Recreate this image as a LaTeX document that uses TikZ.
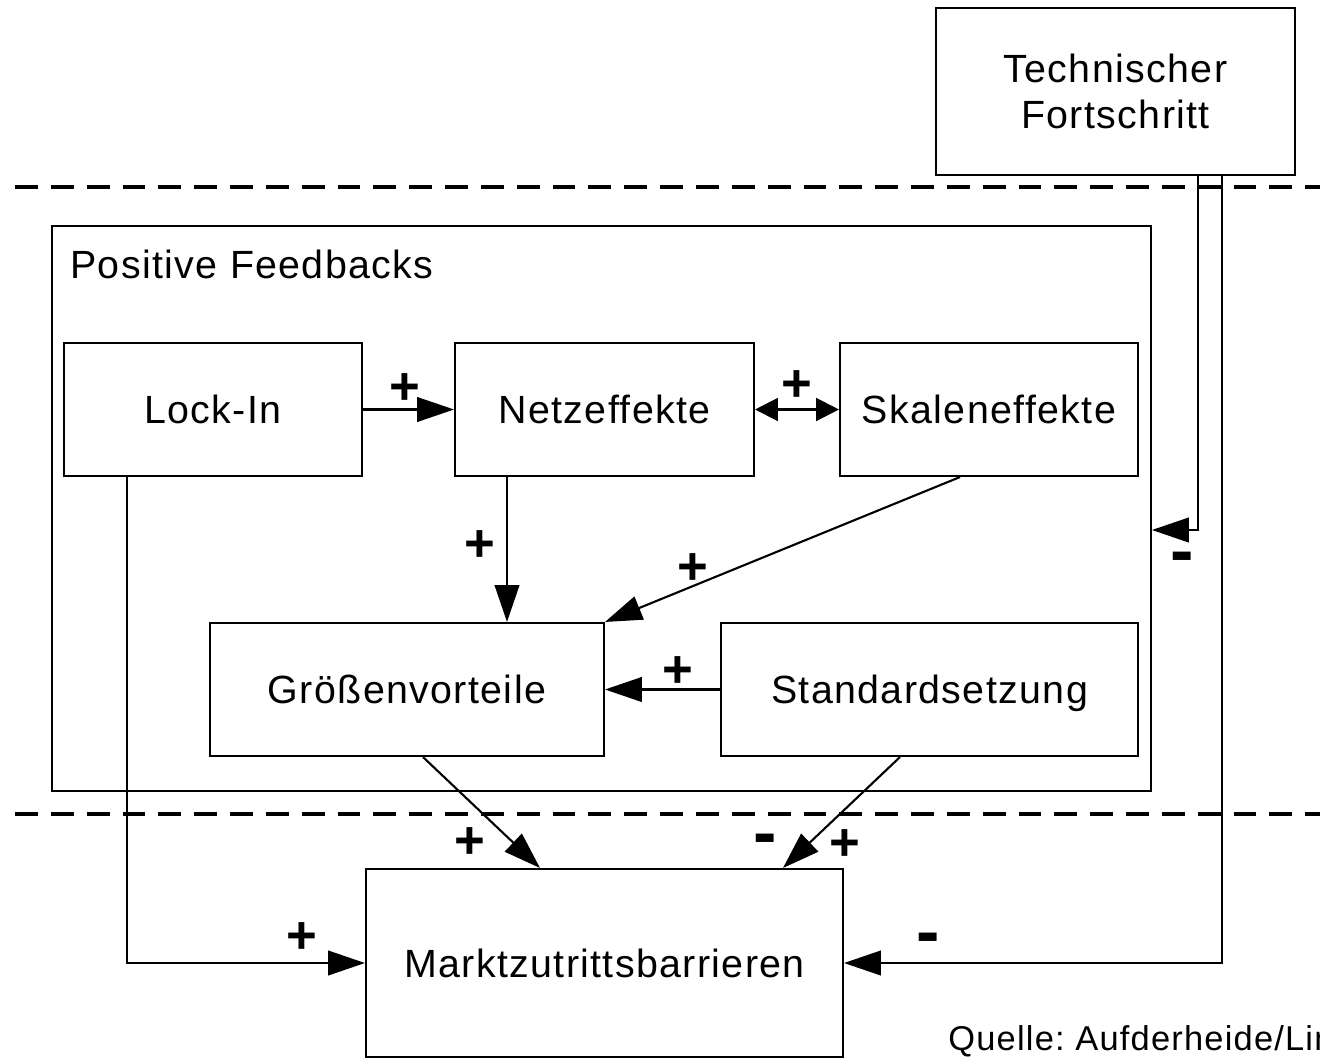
\documentclass[tikz,border=0pt]{standalone}
\usepackage{fontspec}
\setmainfont{Liberation Sans}
\newfontfamily\lsfont[LetterSpace=3.5]{Liberation Sans}
\usetikzlibrary{arrows.meta,calc}
\frenchspacing
\tikzset{
  txt/.style={font=\lsfont\fontsize{22.4}{26}\selectfont},
  box/.style={draw, line width=1.2pt, inner sep=0pt, txt, align=center},
  onel/.style={box, text height=16.04pt, text depth=0pt},
  conn/.style={line width=1.2pt, -{Triangle[length=21pt,width=14pt]}},
  biconn/.style={line width=1.2pt, {Triangle[length=13pt,width=13pt]}-{Triangle[length=13pt,width=13pt]}},
  plus/.style={font=\bfseries\fontsize{30}{30}\selectfont, inner sep=0pt},
  minus/.style={font=\bfseries\fontsize{40}{40}\selectfont, inner sep=0pt},
  sep/.style={line width=1.8pt, dash pattern=on 13pt off 7.4pt}
}
\begin{document}
\begin{tikzpicture}[x=0.02cm,y=-0.02cm]
\clip (0,0) rectangle (1320,1059);
\useasboundingbox (0,0) rectangle (1320,1059);
% separators
\draw[sep] (15,187) -- (1320,187);
\draw[sep] (15,814) -- (1320,814);
% boxes
\node[box, minimum width=7.18cm, minimum height=3.34cm] (tech) at (1115.5,91.5) {Technischer\\Fortschritt};
\node[box, minimum width=21.98cm, minimum height=11.3cm] (pf) at (601.5,508.5) {};
\node[txt, inner sep=0pt, anchor=base west] (pflabel) at (70,278) {Positive Feedbacks};
\node[onel, minimum width=5.96cm, minimum height=2.66cm] (lock) at (213,409.5) {Lock-In};
\node[onel, minimum width=5.98cm, minimum height=2.66cm] (netz) at (604.5,409.5) {Netzeffekte};
\node[onel, minimum width=5.96cm, minimum height=2.66cm] (skal) at (989,409.5) {Skaleneffekte};
\node[onel, minimum width=7.88cm, minimum height=2.66cm] (groes) at (407,689.5) {Größenvorteile};
\node[onel, minimum width=8.34cm, minimum height=2.66cm] (std) at (929.5,689.5) {Standardsetzung};
\node[onel, minimum width=9.54cm, minimum height=3.76cm] (markt) at (604.5,963) {Marktzutrittsbarrieren};
\node[font=\lsfont\fontsize{19.6}{24}\selectfont, inner sep=0pt, anchor=base west] (quelle) at (948,1050) {Quelle: Aufderheide/Lin};
% connectors
\draw[conn] (lock.east) -- (netz.west);
\draw[biconn] (netz.east) -- (skal.west);
\coordinate (nd) at ($(netz.south)+(-97.5,0)$);
\draw[conn] (nd) -- (nd |- groes.north);
\draw[conn] ($(skal.south)+(-29,0)$) -- (groes.north east);
\draw[conn] (std.west) -- (groes.east);
\draw[conn] ($(groes.south)+(16,0)$) -- ($(markt.north)+(-64.5,0)$);
\draw[conn] ($(std.south)+(-29.5,0)$) -- ($(markt.north)+(178.5,0)$);
\coordinate (ld) at ($(lock.south)+(-86,0)$);
\draw[conn] (ld) |- (markt.west);
\coordinate (t1) at ($(tech.south)+(82.5,0)$);
\coordinate (t2) at ($(tech.south)+(106.5,0)$);
\draw[conn] (t1) |- ($(pf.east)+(0,21.5)$);
\draw[conn] (t2) |- (markt.east);
% signs
\node[plus] (p1) at (405,389) {+};
\node[plus] (p2) at (797,386) {+};
\node[plus] (p3) at (480,546) {+};
\node[plus] (p4) at (693,569) {+};
\node[plus] (p5) at (678,672) {+};
\node[plus] (p6) at (470,843) {+};
\node[plus] (p7) at (845,845) {+};
\node[plus] (p8) at (302,938) {+};
\node[minus] (m1) at (765,845) {-};
\node[minus] (m2) at (1182,563) {-};
\node[minus] (m3) at (928,944) {-};
\end{tikzpicture}
\end{document}
